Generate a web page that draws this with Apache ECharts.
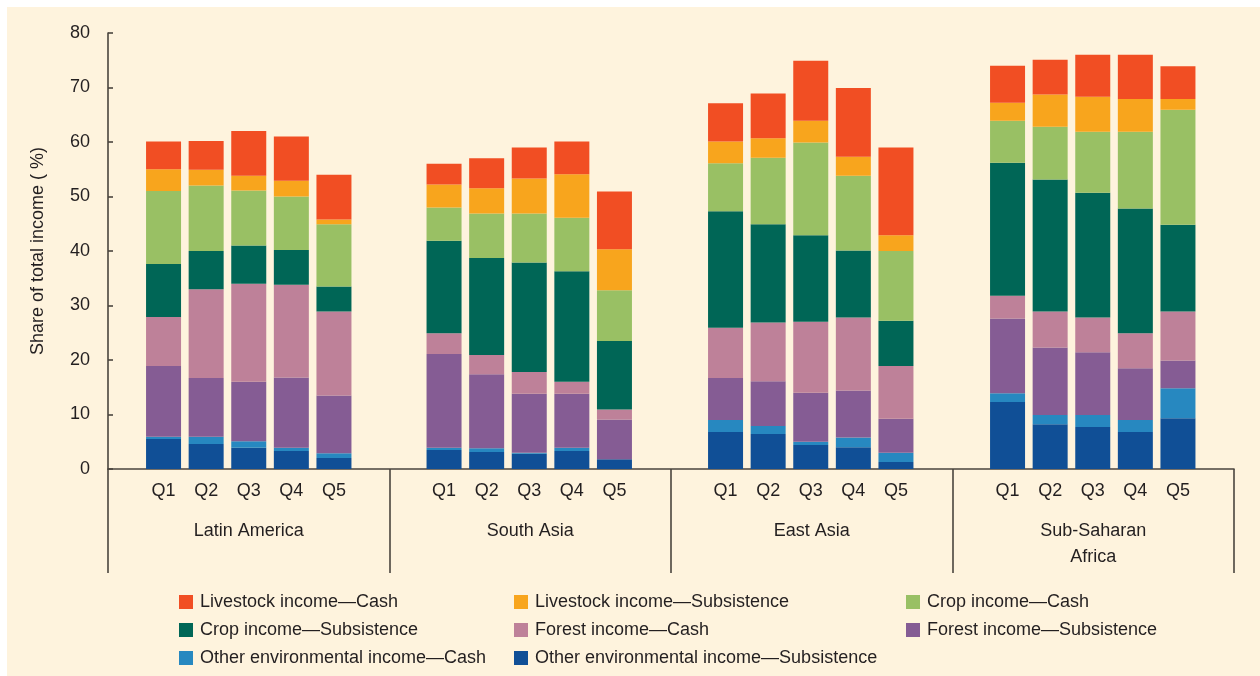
<!DOCTYPE html>
<html>
<head>
<meta charset="utf-8">
<script src="https://cdn.jsdelivr.net/npm/echarts@6/dist/echarts.min.js"></script>
<style>
html,body{margin:0;padding:0;background:#ffffff;}
#chart{width:1260px;height:676px;}
</style>
</head>
<body>
<div id="chart"></div>
<script>
// ---- data ----
const regions = ['Latin America', 'South Asia', 'East Asia', 'Sub-Saharan\nAfrica'];
const quintiles = ['Q1', 'Q2', 'Q3', 'Q4', 'Q5'];
const yTicks = [0, 10, 20, 30, 40, 50, 60, 70, 80];

// each array: Latin America Q1..Q5, South Asia Q1..Q5, East Asia Q1..Q5, Sub-Saharan Africa Q1..Q5
const otherSubsistence = [5.5, 4.6, 3.9, 3.3, 2.0,  3.5, 3.1, 2.8, 3.3, 1.8,  6.8, 6.4, 4.4, 4.0, 1.3,  12.3, 8.2, 7.7, 6.8, 9.3];
const otherCash        = [0.4, 1.3, 1.2, 0.6, 0.9,  0.4, 0.7, 0.2, 0.6, 0.0,  2.2, 1.5, 0.6, 1.8, 1.7,  1.6, 1.7, 2.2, 2.2, 5.5];
const forestSubsistence= [13.0, 10.8, 10.9, 12.9, 10.6,  17.2, 13.6, 10.8, 9.9, 7.3,  7.7, 8.2, 9.0, 8.6, 6.2,  13.7, 12.4, 11.5, 9.5, 5.1];
const forestCash       = [9.0, 16.3, 18.0, 17.0, 15.4,  3.8, 3.5, 4.0, 2.2, 1.8,  9.2, 10.8, 13.0, 13.4, 9.7,  4.2, 6.6, 6.4, 6.4, 9.0];
const cropSubsistence  = [9.7, 7.0, 7.0, 6.4, 4.6,  17.0, 17.8, 20.1, 20.3, 12.6,  21.4, 18.0, 15.9, 12.3, 8.3,  24.4, 24.2, 22.9, 22.9, 15.9];
const cropCash         = [13.4, 12.0, 10.1, 9.8, 11.4,  6.1, 8.2, 9.0, 9.8, 9.3,  8.8, 12.2, 17.0, 13.7, 12.8,  7.7, 9.7, 11.2, 14.1, 21.1];
const livestockSubsistence = [4.0, 2.9, 2.7, 2.9, 0.9,  4.2, 4.6, 6.4, 8.0, 7.5,  4.0, 3.6, 4.0, 3.5, 2.9,  3.3, 5.9, 6.4, 6.0, 2.0];
const livestockCash    = [5.1, 5.3, 8.2, 8.1, 8.2,  3.8, 5.5, 5.7, 6.0, 10.6,  7.0, 8.2, 11.0, 12.6, 16.1,  6.8, 6.4, 7.7, 8.1, 6.0];

const seriesDefs = [
  {name: 'Other environmental income\u2014Subsistence', data: otherSubsistence, color: '#104F96'},
  {name: 'Other environmental income\u2014Cash', data: otherCash, color: '#2788C0'},
  {name: 'Forest income\u2014Subsistence', data: forestSubsistence, color: '#855C94'},
  {name: 'Forest income\u2014Cash', data: forestCash, color: '#BE8199'},
  {name: 'Crop income\u2014Subsistence', data: cropSubsistence, color: '#006656'},
  {name: 'Crop income\u2014Cash', data: cropCash, color: '#99C064'},
  {name: 'Livestock income\u2014Subsistence', data: livestockSubsistence, color: '#F8A51D'},
  {name: 'Livestock income\u2014Cash', data: livestockCash, color: '#F14E23'}
];

const FONT = '"Liberation Sans", Arial, sans-serif';
const TXT = '#231F20';
const AX = '#4a443e';

const chart = echarts.init(document.getElementById('chart'), null, {renderer: 'canvas'});

const plotTop = 33, plotHeight = 436;
const barGridLefts = [142.25, 422.75, 704.25, 986.25];
const barGridWidth = 213;

const grids = [{left: 108, width: 1126, top: plotTop, height: plotHeight}];
barGridLefts.forEach(l => grids.push({left: l, width: barGridWidth, top: plotTop, height: plotHeight}));

const xAxes = [{
  type: 'category', gridIndex: 0, data: regions, boundaryGap: true,
  axisLine: {show: true, lineStyle: {color: AX, width: 1.6}},
  axisTick: {show: true, inside: false, length: 104, alignWithLabel: false, lineStyle: {color: AX, width: 1.6}},
  axisLabel: {color: TXT, fontFamily: FONT, fontSize: 18, lineHeight: 26, margin: 49, interval: 0}
}];
const yAxes = [{
  type: 'value', gridIndex: 0, min: 0, max: 80, interval: 10,
  name: 'Share of total income ( %)', nameLocation: 'middle', nameRotate: 90, nameGap: 61,
  nameTextStyle: {color: TXT, fontFamily: FONT, fontSize: 18},
  axisLine: {show: true, lineStyle: {color: AX, width: 1.6}},
  axisTick: {show: true, inside: true, length: 5, lineStyle: {color: AX, width: 1.6}},
  axisLabel: {color: TXT, fontFamily: FONT, fontSize: 18, margin: 18,
    formatter: v => yTicks.indexOf(v) >= 0 ? String(v) : ''},
  splitLine: {show: false}
}];
for (let g = 1; g <= 4; g++) {
  xAxes.push({
    type: 'category', gridIndex: g, data: quintiles,
    axisLine: {show: false}, axisTick: {show: false},
    axisLabel: {color: TXT, fontFamily: FONT, fontSize: 18, lineHeight: 18, margin: 13, interval: 0}
  });
  yAxes.push({type: 'value', gridIndex: g, min: 0, max: 80, interval: 10, show: false, splitLine: {show: false}});
}

const series = [];
for (let g = 0; g < 4; g++) {
  seriesDefs.forEach(d => {
    series.push({
      type: 'bar', name: d.name, stack: 'region' + g,
      xAxisIndex: g + 1, yAxisIndex: g + 1,
      barWidth: 35,
      itemStyle: {color: d.color},
      emphasis: {disabled: true},
      data: d.data.slice(g * 5, g * 5 + 5)
    });
  });
}

const legendBase = {
  orient: 'vertical', itemWidth: 14, itemHeight: 14, itemGap: 10, icon: 'rect',
  selectedMode: false, padding: 0, height: 80,
  textStyle: {color: TXT, fontFamily: FONT, fontSize: 18, padding: [0, 0, 0, 2]}
};
const legends = [
  Object.assign({}, legendBase, {left: 179, top: 593, data: [seriesDefs[7].name, seriesDefs[4].name, seriesDefs[1].name]}),
  Object.assign({}, legendBase, {left: 514, top: 593, data: [seriesDefs[6].name, seriesDefs[3].name, seriesDefs[0].name]}),
  Object.assign({}, legendBase, {left: 906, top: 593, data: [seriesDefs[5].name, seriesDefs[2].name]})
];

chart.setOption({
  backgroundColor: '#ffffff',
  animation: false,
  graphic: [{type: 'rect', z: -10, silent: true, shape: {x: 7, y: 7, width: 1253, height: 669}, style: {fill: '#FEF3DD'}}],
  grid: grids,
  xAxis: xAxes,
  yAxis: yAxes,
  legend: legends,
  series: series
});
</script>
</body>
</html>
